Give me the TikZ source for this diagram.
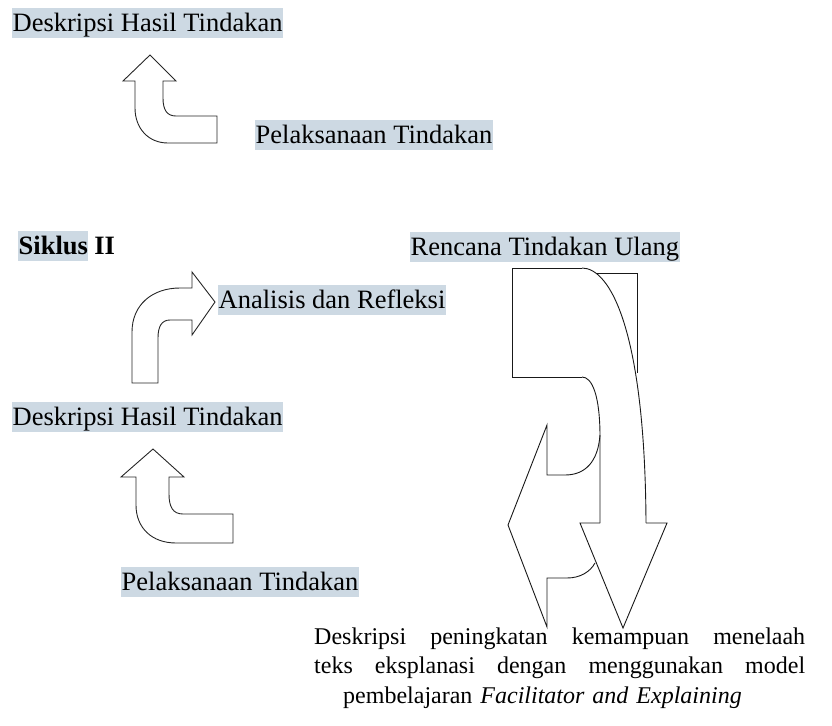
\documentclass[tikz,border=0pt]{standalone}
\usepackage{fontspec}
\setmainfont{Liberation Serif}
\usepackage{tikz}
\usetikzlibrary{positioning}
\definecolor{hlblue}{RGB}{205,217,227}
\newcommand{\spreadline}[1]{\leavevmode\hbox to 491pt{\spaceskip=0.25em plus 1fil\relax #1}}

\begin{document}
\begin{tikzpicture}[x=1pt, y=-1pt, font=\fontsize{26.5}{30}\selectfont,
  label/.style={anchor=north west, fill=hlblue, inner xsep=0.5pt, inner ysep=0pt, text height=23.5pt, text depth=6.5pt},
  plain/.style={anchor=north west, inner xsep=0.5pt, inner ysep=0pt, text height=23.5pt, text depth=6.5pt},
  blockarrow/.style={draw=black!85, line width=0.9pt, line join=miter},
  outline/.style={draw=black!90, line width=0.9pt}]
  \useasboundingbox (0,0) rectangle (832,725);

  \node[label] (hasilA) at (12,8) {Deskripsi Hasil Tindakan};
  \node[label] (laksanaA) at (255,120) {Pelaksanaan Tindakan};
  \node[label] (siklus) at (18,231) {\textbf{Siklus}};
  \node[plain, right=5pt of siklus] (sikluske) {\textbf{II}};
  \node[label] (rencana) at (410,232) {Rencana Tindakan Ulang};
  \node[label] (analisis) at (218,285) {Analisis dan Refleksi};
  \node[label] (hasilB) at (12,402) {Deskripsi Hasil Tindakan};
  \node[label] (laksanaB) at (121,567) {Pelaksanaan Tindakan};
  \node[anchor=north west, inner sep=0pt, text width=491pt, align=left,
    font=\fontsize{24}{29.5}\selectfont] (peningkatan) at (314,623.4)
    {\strut\spreadline{Deskripsi peningkatan kemampuan menelaah}\\
     \spreadline{teks eksplanasi dengan menggunakan model}\\
     \hspace*{29pt}pembelajaran \textit{Facilitator and Explaining}};

  \draw[blockarrow] (150,55) -- (176,81) -- (163,81) -- (163,98)
    .. controls (163,110) and (167,116) .. (176,116) -- (217,116) -- (217,143) -- (168,143)
    .. controls (148,143) and (135,128) .. (135,108) -- (135,81) -- (123,81) -- cycle;
  \draw[blockarrow] (215,302) -- (192,272) -- (192,288) -- (180,288)
    .. controls (152,288) and (132,305) .. (132,332) -- (132,383) -- (158,383) -- (158,338)
    .. controls (158,326) and (162,320) .. (170,320) -- (192,320) -- (192,335) -- cycle;
  \draw[blockarrow] (153,449) -- (184,477) -- (169,477) -- (169,494)
    .. controls (169,507) and (173,514) .. (183,514) -- (233,514) -- (233,543) -- (176,543)
    .. controls (152,543) and (136,528) .. (136,505) -- (136,477) -- (121,477) -- cycle;

  \draw[outline] (582,268) -- (512,268) -- (512,377) -- (582,377);
  \draw[outline] (597,273) -- (637,273) -- (637,373);
  \draw[outline] (582,268) .. controls (610,268) and (645,330) .. (646,523);
  \draw[outline] (582,377) .. controls (592,377) and (600,395) .. (600,437) -- (600,523);
  \draw[outline] (600,435) .. controls (598,462) and (585,475) .. (565,475) -- (547,475)
    -- (547,425) -- (508,525) -- (547,627) -- (547,578) -- (567,578)
    .. controls (580,578) and (590,572) .. (595,563);
  \draw[outline] (600,523) -- (580,523) -- (623,628) -- (667,523) -- (646,523);
\end{tikzpicture}
\end{document}
